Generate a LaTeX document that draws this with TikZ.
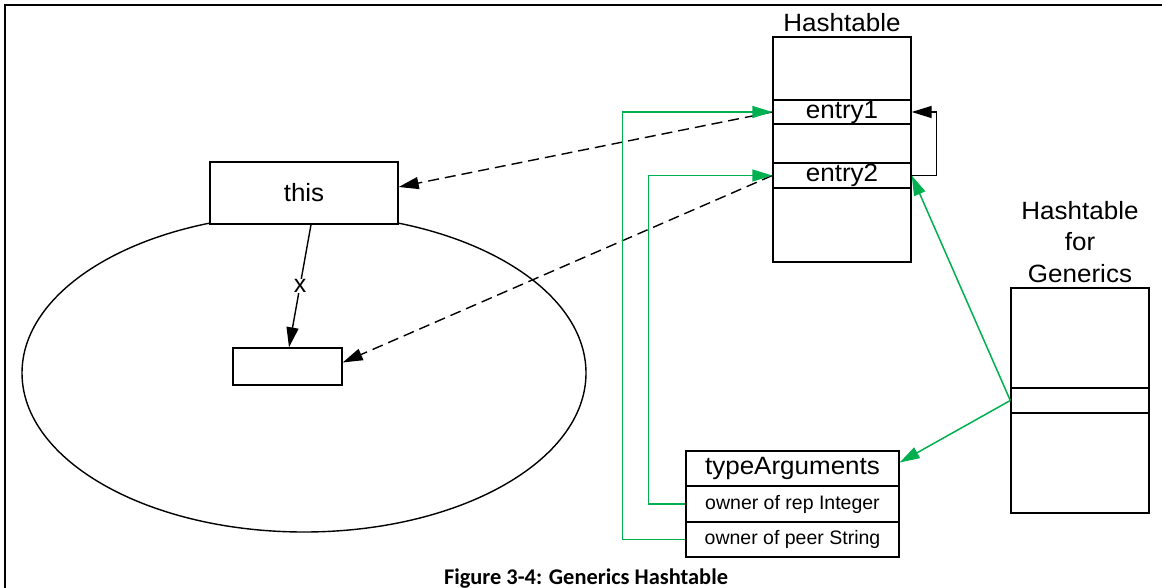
\documentclass[tikz,border=0pt]{standalone}
\usepackage{fontspec}
\setmainfont{Liberation Sans}
\newfontfamily\widesans[FakeStretch=1.04]{Liberation Sans}
\newfontfamily\capfont{Carlito}
\usetikzlibrary{arrows.meta}
\definecolor{linkgreen}{RGB}{0,176,80}

\begin{document}
\begin{tikzpicture}[x=1pt,y=-1pt,
  box/.style={draw, line width=1.4pt, fill=white, inner sep=0pt, rectangle},
  big/.style={font=\widesans\fontsize{25}{31}\selectfont},
  small/.style={font=\fontsize{19.5}{23}\selectfont},
  tip/.style={-{Triangle[length=20pt,width=12pt]}},
  plain/.style={tip, line width=1.4pt},
  ref/.style={tip, line width=1.4pt, dash pattern=on 11pt off 6pt},
  link/.style={tip, draw=linkgreen, line width=1.5pt},
  xmark/.style={fill=white, inner sep=0pt, font=\fontsize{25}{25}\selectfont},
  caption/.style={font=\capfont\bfseries\fontsize{22.4}{26}\selectfont, anchor=base}]

\useasboundingbox (0,0) rectangle (1162,588);

% outer frame (open to the right and bottom)
\draw[line width=2.5pt] (5,600) -- (5,5) -- (1175,5);

% object region with the "this" reference
\draw[line width=1.4pt] (304,373) ellipse [x radius=282pt, y radius=159pt];
\node[box, minimum width=188pt, minimum height=62pt, big] (this) at (304,193) {this};
\node[box, minimum width=109pt, minimum height=37pt] (slot) at (287.5,366.5) {};

% Hashtable
\node[box, minimum width=138pt, minimum height=225pt] (ht) at (842,149.5) {};
\node[big, anchor=base] (htlabel) at (842,32) {Hashtable};
\node[box, minimum width=138pt, minimum height=24pt, big] (entry1) at (842,112) {entry1};
\node[box, minimum width=138pt, minimum height=25pt, big] (entry2) at (842,175.5) {entry2};

% Hashtable for Generics
\node[box, minimum width=138pt, minimum height=225pt] (gt) at (1080,400.5) {};
\node[box, minimum width=138pt, minimum height=25pt] (gslot) at (1080,400.5) {};
\node[big, anchor=base] (gl1) at (1080,220) {Hashtable};
\node[big, anchor=base] (gl2) at (1080,251) {for};
\node[big, anchor=base] (gl3) at (1080,282) {Generics};

% typeArguments record
\node[box, minimum width=213pt, minimum height=35pt, big] (targs) at (792.5,468.5) {typeArguments};
\node[box, minimum width=213pt, minimum height=36pt, small] (rep) at (792.5,504) {owner of rep Integer};
\node[box, minimum width=213pt, minimum height=35pt, small] (peer) at (792.5,539.5) {owner of peer String};

% references
\draw[ref] (entry1.west) -- ([yshift=6pt]this.east);
\draw[ref] (entry2.west) -- ([yshift=4pt]slot.east);
\draw[plain] ([xshift=7pt]this.south) -- node[xmark] {x} ([xshift=1.5pt]slot.north);
\draw[plain] (entry2.east) -- ++(25,0) |- (entry1.east);

% generic links
\draw[link] (gslot.west) -- (entry2.east);
\draw[link] (gslot.west) -- ([yshift=6pt]targs.east);
\draw[link] (rep.west) -- ++(-37,0) |- (entry2.west);
\draw[link] (peer.west) -- ++(-63,0) |- (entry1.west);

% caption
\node[caption] (cap) at (586,584.5) {Figure 3-4: Generics Hashtable};
\end{tikzpicture}
\end{document}
